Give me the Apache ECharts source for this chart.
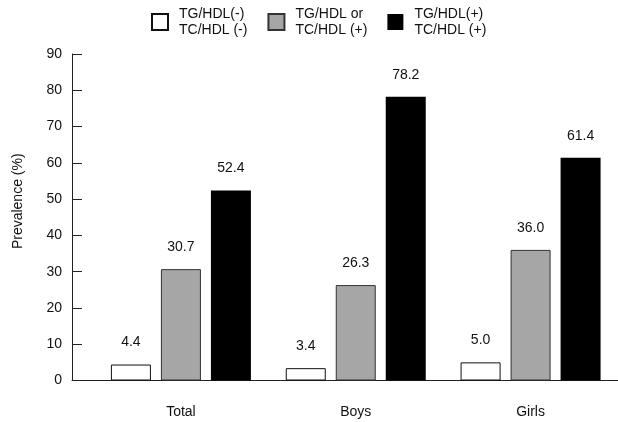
<!DOCTYPE html>
<html>
<head>
<meta charset="utf-8">
<script src="https://cdn.jsdelivr.net/npm/echarts@6/dist/echarts.min.js"></script>
<style>
html,body{margin:0;padding:0;background:#fff;}
#chart{width:618px;height:422px;}
</style>
</head>
<body>
<div id="chart"></div>
<script>
const categories = ['Total', 'Boys', 'Girls'];
const seriesNames = ['TG/HDL(-)\nTC/HDL (-)', 'TG/HDL or\nTC/HDL (+)', 'TG/HDL(+)\nTC/HDL (+)'];
const negValues = [4.4, 3.4, 5.0];
const eitherValues = [30.7, 26.3, 36.0];
const bothValues = [52.4, 78.2, 61.4];
const yTicks = { min: 0, max: 90, interval: 10 };

const FONT = '"Liberation Sans", Arial, sans-serif';
const TXT = '#111';

const chart = echarts.init(document.getElementById('chart'), null, { renderer: 'canvas' });

const labelCfg = {
  show: true,
  position: 'top',
  distance: 15,
  fontSize: 14,
  fontFamily: FONT,
  color: TXT,
  formatter: p => p.value.toFixed(1)
};

function barSeries(name, data, fill, border, bw) {
  return {
    name: name,
    type: 'bar',
    xAxisIndex: 1,
    yAxisIndex: 1,
    data: data,
    barWidth: 40,
    barGap: '25%',
    itemStyle: { color: fill, borderColor: border, borderWidth: bw },
    label: labelCfg,
    emphasis: { disabled: true },
    animation: false
  };
}

chart.setOption({
  animation: false,
  backgroundColor: '#fff',
  textStyle: { fontFamily: FONT },
  legend: {
    top: 1,
    left: 146,
    itemWidth: 16,
    itemHeight: 16,
    itemGap: 20,
    icon: 'rect',
    selectedMode: false,
    textStyle: { fontSize: 14, lineHeight: 16, color: TXT, fontFamily: FONT, padding: [0, 0, 0, 6] },
    data: seriesNames
  },
  grid: [
    { left: 72, right: 0, top: 54, bottom: 41.5 },
    { left: 93.5, right: 0, top: 54, bottom: 41.5 }
  ],
  xAxis: [
    {
      gridIndex: 0, type: 'value', min: 0, max: 1,
      axisLine: { show: true, lineStyle: { color: '#222', width: 1 } },
      axisTick: { show: false }, axisLabel: { show: false }, splitLine: { show: false }
    },
    {
      gridIndex: 1, type: 'category', data: categories,
      axisLine: { show: false }, axisTick: { show: false },
      axisLabel: { fontSize: 14, color: TXT, fontFamily: FONT, margin: 25 }
    }
  ],
  yAxis: [
    {
      gridIndex: 0, type: 'value', min: yTicks.min, max: yTicks.max, interval: yTicks.interval,
      name: 'Prevalence (%)', nameLocation: 'middle', nameGap: 47,
      nameTextStyle: { fontSize: 14, color: TXT, fontFamily: FONT, padding: [0, 0, 0, 32] },
      axisLine: { show: true, lineStyle: { color: '#222', width: 1 } },
      axisTick: { show: true, inside: true, length: 10, lineStyle: { color: '#222' } },
      axisLabel: { fontSize: 14, color: TXT, fontFamily: FONT, margin: 10 },
      splitLine: { show: false }
    },
    {
      gridIndex: 1, type: 'value', min: yTicks.min, max: yTicks.max, interval: yTicks.interval,
      show: false, splitLine: { show: false }
    }
  ],
  series: [
    barSeries(seriesNames[0], negValues, '#ffffff', '#111', 1),
    barSeries(seriesNames[1], eitherValues, '#a6a6a6', '#333', 1),
    barSeries(seriesNames[2], bothValues, '#000000', '#000', 0)
  ]
});
</script>
</body>
</html>
